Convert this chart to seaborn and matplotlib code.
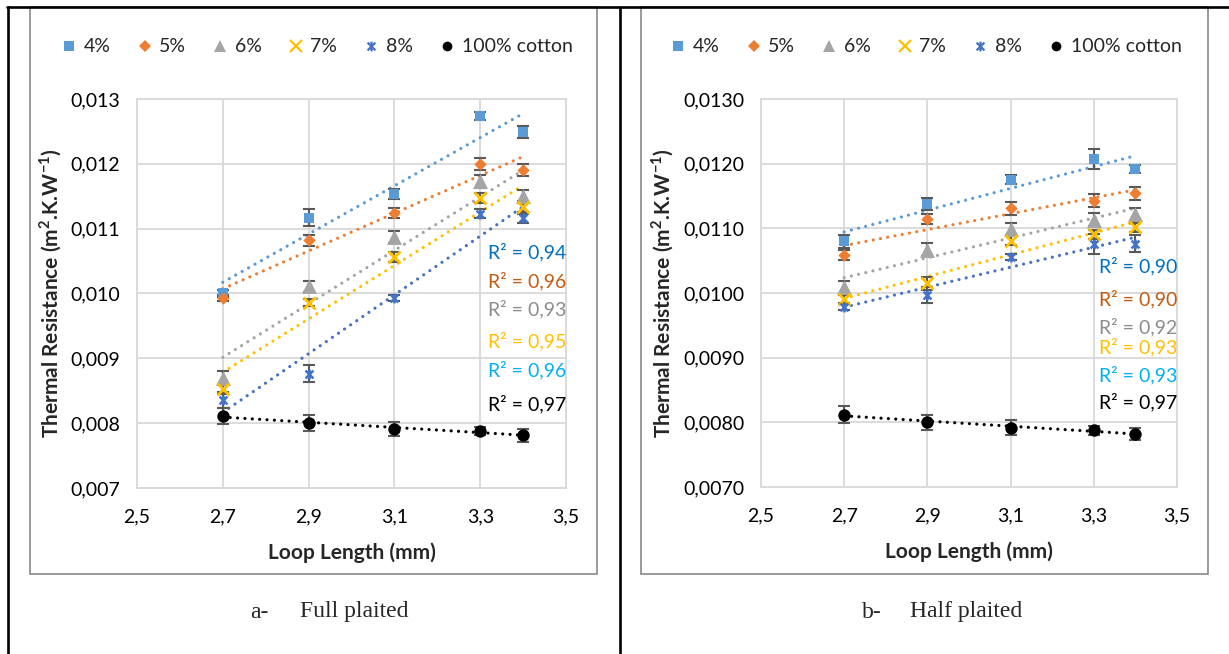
import numpy as np
import pandas as pd
import matplotlib
matplotlib.use("Agg")
import matplotlib.pyplot as plt
import seaborn as sns
from matplotlib.path import Path
from matplotlib.lines import Line2D
from matplotlib.patches import Rectangle
from matplotlib.ticker import FuncFormatter

# ---------------- data ----------------
loop_length = [2.7, 2.9, 3.1, 3.3, 3.4]
series_names = ["4%", "5%", "6%", "7%", "8%", "100% cotton"]

# a - Full plaited
full_4 = [0.01000, 0.01117, 0.01153, 0.01274, 0.01249]
full_5 = [0.00993, 0.01082, 0.01124, 0.01200, 0.01191]
full_6 = [0.00870, 0.01011, 0.01087, 0.01173, 0.01150]
full_7 = [0.00852, 0.00986, 0.01056, 0.01147, 0.01134]
full_8 = [0.00836, 0.00876, 0.00993, 0.01123, 0.01116]
full_cotton = [0.00811, 0.00800, 0.00791, 0.00788, 0.00781]
full_err_4 = [0.00005, 0.00013, 0.00008, 0.00006, 0.00009]
full_err_5 = [0.00005, 0.00008, 0.00008, 0.00009, 0.00009]
full_err_6 = [0.00010, 0.00008, 0.00009, 0.00010, 0.00010]
full_err_7 = [0.00007, 0.00006, 0.00008, 0.00008, 0.00008]
full_err_8 = [0.00012, 0.00013, 0.00004, 0.00007, 0.00007]
full_err_cotton = [0.00012, 0.00012, 0.00011, 0.00006, 0.00010]
full_r2 = ["0,94", "0,96", "0,93", "0,95", "0,96", "0,97"]

# b - Half plaited
half_4 = [0.01080, 0.01138, 0.01175, 0.01207, 0.01192]
half_5 = [0.01059, 0.01114, 0.01131, 0.01143, 0.01154]
half_6 = [0.01009, 0.01067, 0.01099, 0.01113, 0.01122]
half_7 = [0.00990, 0.01015, 0.01081, 0.01091, 0.01102]
half_8 = [0.00979, 0.00997, 0.01056, 0.01076, 0.01076]
half_cotton = [0.00812, 0.00800, 0.00792, 0.00788, 0.00782]
half_err_4 = [0.00010, 0.00009, 0.00007, 0.00015, 0.00006]
half_err_5 = [0.00008, 0.00008, 0.00010, 0.00010, 0.00010]
half_err_6 = [0.00010, 0.00010, 0.00010, 0.00010, 0.00010]
half_err_7 = [0.00007, 0.00010, 0.00007, 0.00007, 0.00007]
half_err_8 = [0.00005, 0.00012, 0.00005, 0.00015, 0.00013]
half_err_cotton = [0.00013, 0.00012, 0.00011, 0.00007, 0.00009]
half_r2 = ["0,90", "0,90", "0,92", "0,93", "0,93", "0,97"]

x_ticks = [2.5, 2.7, 2.9, 3.1, 3.3, 3.5]
y_ticks = [0.007, 0.008, 0.009, 0.010, 0.011, 0.012, 0.013]
caption_a = ("a-", "Full plaited")
caption_b = ("b-", "Half plaited")
x_label = "Loop Length (mm)"

# ---------------- styles ----------------
sns.set_style("white")
plt.rcParams["font.family"] = ["Lato", "DejaVu Sans"]
plt.rcParams["mathtext.fontset"] = "custom"
plt.rcParams["mathtext.rm"] = "Lato"
plt.rcParams["mathtext.bf"] = "Lato:bold"

star = Path([(-1, -1), (1, 1), (-1, 1), (1, -1), (0, -1.25), (0, 1.25)],
            [Path.MOVETO, Path.LINETO, Path.MOVETO, Path.LINETO, Path.MOVETO, Path.LINETO])

mk_color = {"4%": "#5B9BD5", "5%": "#ED7D31", "6%": "#A5A5A5",
            "7%": "#FFC000", "8%": "#4472C4", "100% cotton": "#000000"}
r2_color = {"4%": "#0070C0", "5%": "#C55A11", "6%": "#8C8C8C",
            "7%": "#FFC000", "8%": "#00B0F0", "100% cotton": "#000000"}
mk_shape = {"4%": "s", "5%": "D", "6%": "^", "7%": "x", "8%": star, "100% cotton": "o"}
mk_size = {"4%": 60, "5%": 40, "6%": 115, "7%": 75, "8%": 50, "100% cotton": 80}
mk_lw = {"4%": 0, "5%": 0, "6%": 0, "7%": 2.0, "8%": 1.8, "100% cotton": 0}


def long_frame(vals, errs):
    rows = []
    for name, v, e in zip(series_names, vals, errs):
        for x, y, ee in zip(loop_length, v, e):
            rows.append({"loop": x, "value": y, "err": ee, "series": name})
    return pd.DataFrame(rows)


df_full = long_frame([full_4, full_5, full_6, full_7, full_8, full_cotton],
                     [full_err_4, full_err_5, full_err_6, full_err_7, full_err_8, full_err_cotton])
df_half = long_frame([half_4, half_5, half_6, half_7, half_8, half_cotton],
                     [half_err_4, half_err_5, half_err_6, half_err_7, half_err_8, half_err_cotton])

W, H = 1229, 654
fig = plt.figure(figsize=(W / 100, H / 100), dpi=100)


def fx(px):
    return px / W


def fy(py):
    return 1 - py / H


axA = fig.add_axes([fx(137), fy(488), fx(566) - fx(137), fy(99) - fy(488)])
axB = fig.add_axes([fx(761), fy(487), fx(1177) - fx(761), fy(99) - fy(487)])

r2_pos_a = [0.607, 0.532, 0.460, 0.378, 0.303, 0.216]
r2_pos_b = [0.570, 0.485, 0.412, 0.361, 0.289, 0.219]


def draw_panel(ax, df, r2_vals, r2_pos, ndec):
    for name in series_names:
        sub = df[df.series == name]
        sns.regplot(data=sub, x="loop", y="value", scatter=False, ci=None, truncate=True,
                    color=mk_color[name], ax=ax,
                    line_kws=dict(lw=2.3, ls=(0, (0.01, 2.3)), dash_capstyle="round", zorder=2))
        ax.errorbar(sub.loop, sub.value, yerr=sub.err, fmt="none", ecolor="#595959",
                    elinewidth=1.5, capsize=4, capthick=1.5, zorder=3)
        sns.scatterplot(data=sub, x="loop", y="value", color=mk_color[name], marker=mk_shape[name],
                        s=mk_size[name], linewidth=mk_lw[name], edgecolor=mk_color[name],
                        ax=ax, zorder=4, legend=False)
    for name, r2, yp in zip(series_names, r2_vals, r2_pos):
        ax.text(1.0, yp, "R² = " + r2, transform=ax.transAxes, ha="right", va="center",
                fontsize=14, color=r2_color[name])
    ax.set_xlim(2.5, 3.5)
    ax.set_ylim(0.007, 0.013)
    ax.set_xticks(x_ticks)
    ax.set_yticks(y_ticks)
    ax.xaxis.set_major_formatter(FuncFormatter(lambda v, p: f"{v:.1f}".replace(".", ",")))
    ax.yaxis.set_major_formatter(FuncFormatter(lambda v, p: f"{v:.{ndec}f}".replace(".", ",")))
    ax.grid(True, color="#D9D9D9", lw=1.3)
    ax.set_axisbelow(True)
    for s in ax.spines.values():
        s.set_color("#D9D9D9")
        s.set_linewidth(1.3)
    ax.tick_params(axis="both", length=0, labelsize=14, colors="#000000")
    ax.tick_params(axis="x", pad=15)
    ax.tick_params(axis="y", pad=12)
    ax.set_xlabel(x_label, fontsize=15, fontweight="bold", labelpad=12)
    ax.set_ylabel(r"Thermal Resistance (m$^{\mathbf{2}}$.K.W$^{\mathbf{-1}}$)",
                  fontsize=15, fontweight="bold", labelpad=5)


draw_panel(axA, df_full, full_r2, r2_pos_a, 3)
draw_panel(axB, df_half, half_r2, r2_pos_b, 4)

# legends
handles = [Line2D([], [], ls="none", marker=mk_shape[n], color=mk_color[n],
                  markersize={"4%": 7, "5%": 6, "6%": 9, "7%": 9, "8%": 7, "100% cotton": 7}[n],
                  markeredgewidth={"4%": 0, "5%": 0, "6%": 0, "7%": 1.6, "8%": 1.6, "100% cotton": 0}[n])
           for n in series_names]
for cx in (fx(317), fx(926)):
    fig.legend(handles, series_names, loc="center", bbox_to_anchor=(cx, fy(47)), ncol=6,
               frameon=False, fontsize=14, handlelength=0.8, handletextpad=0.35,
               columnspacing=1.35)

# table borders and chart frames
fig.add_artist(Line2D([fx(7), 1], [fy(6.5), fy(6.5)], color="black", lw=1.9, transform=fig.transFigure))
fig.add_artist(Line2D([fx(8), fx(8)], [fy(6.5), 0], color="black", lw=1.9, transform=fig.transFigure))
fig.add_artist(Line2D([fx(620), fx(620)], [fy(6.5), 0], color="black", lw=1.9, transform=fig.transFigure))
for x0, x1 in ((30, 597), (641, 1208)):
    fig.add_artist(Rectangle((fx(x0), fy(574)), fx(x1) - fx(x0), fy(7) - fy(574), fill=False,
                             edgecolor="#7F7F7F", lw=1.1, transform=fig.transFigure))

# captions
for (lab, txt), xl, xt in ((caption_a, 250, 300), (caption_b, 862, 910)):
    fig.text(fx(xl), fy(612), lab, family="Liberation Serif", fontsize=17, va="center", ha="left")
    fig.text(fx(xt), fy(612), txt, family="Liberation Serif", fontsize=17, va="center", ha="left")

fig.savefig("out.png", dpi=100, facecolor="white")
